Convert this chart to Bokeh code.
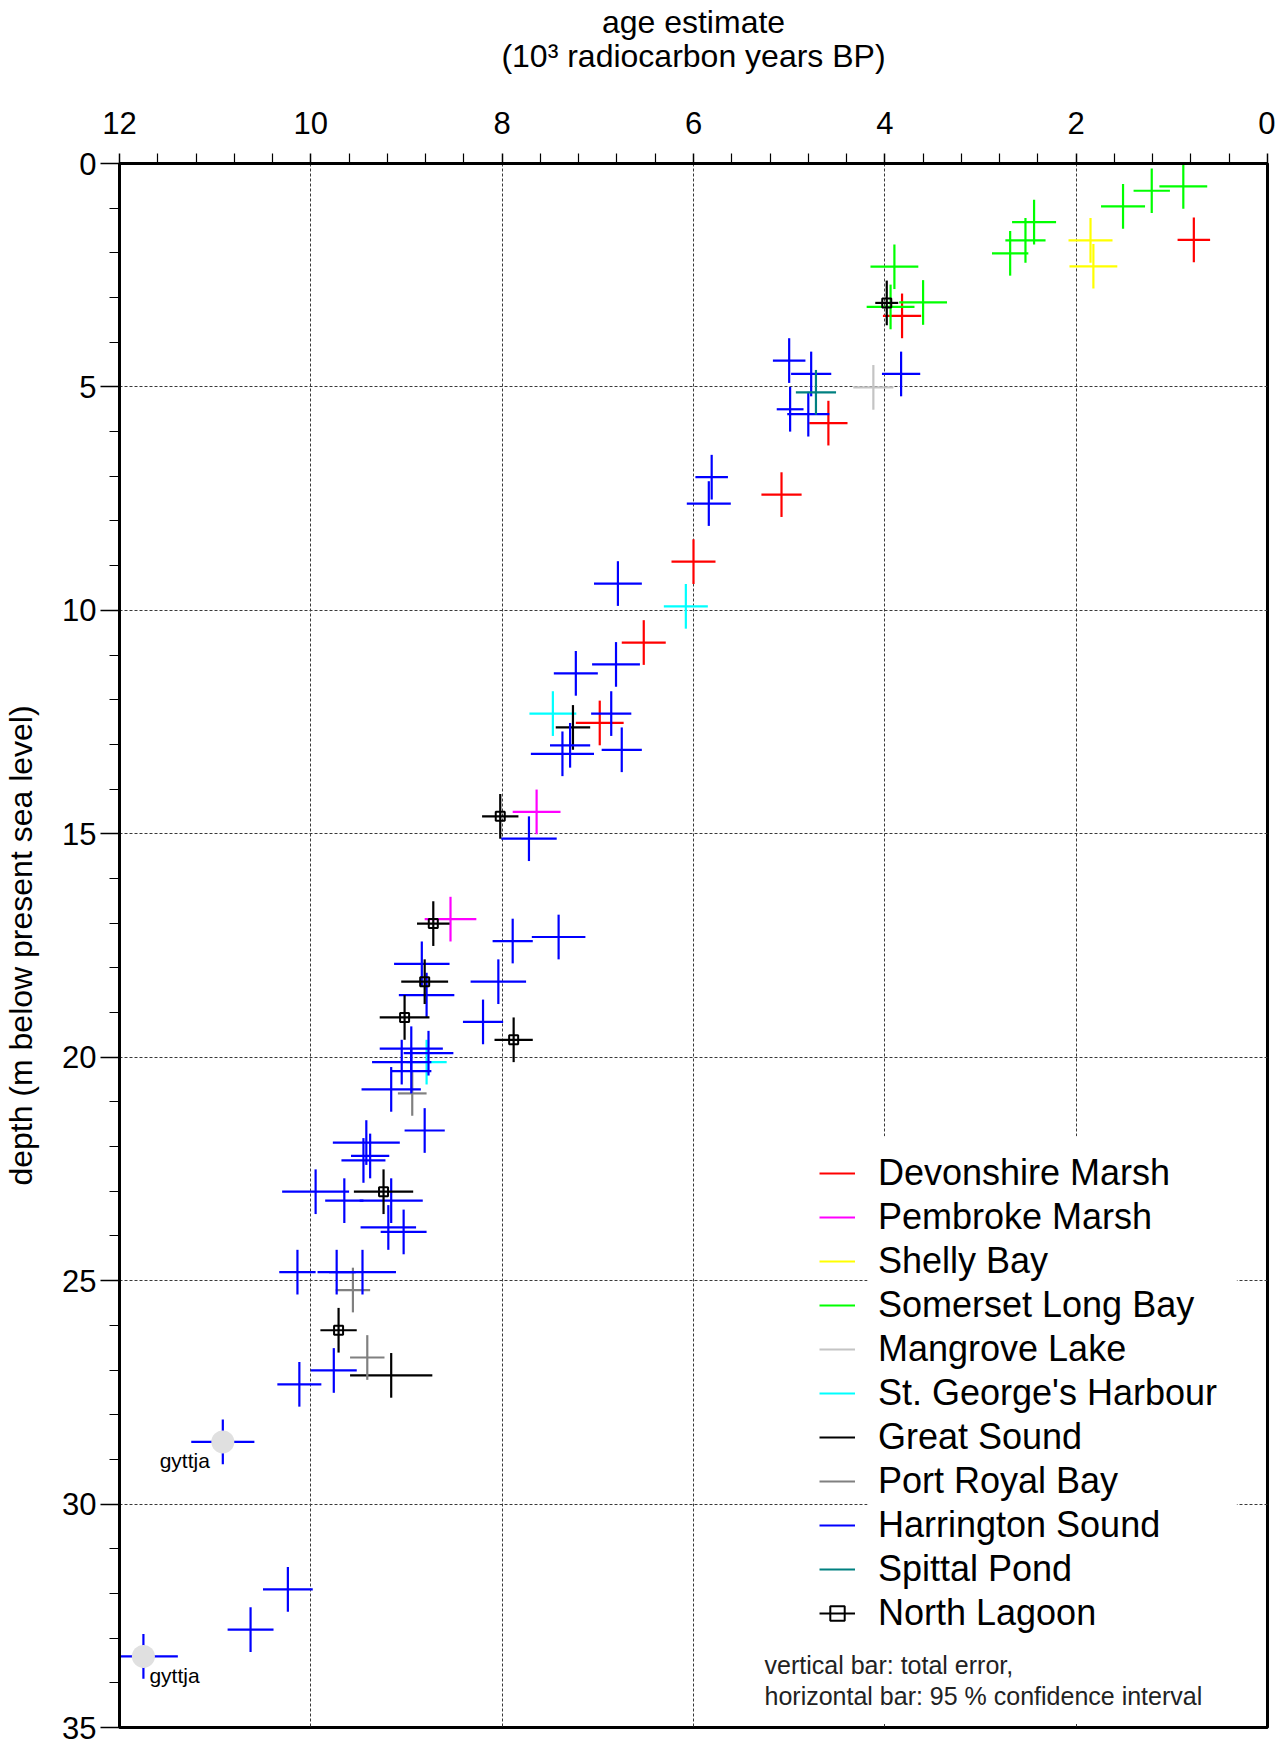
from bokeh.plotting import figure
from bokeh.models import (Range1d, FixedTicker, Legend, LegendItem, Label,
                          BoxAnnotation, ColumnDataSource)
from bokeh.core.properties import value
from bokeh.embed import file_html
from bokeh.resources import INLINE

FONT = "Liberation Sans"

# ---- radiocarbon ages (10^3 yr BP), 95 % half-width, depth (m), total depth error ----
devonshire_age = [0.77, 3.82, 4.59, 5.08, 6.00, 6.52, 6.98]
devonshire_ci = [0.17, 0.20, 0.20, 0.21, 0.23, 0.23, 0.25]
devonshire_depth = [1.71, 3.41, 5.81, 7.41, 8.91, 10.72, 12.52]
devonshire_err = [0.5, 0.5, 0.5, 0.5, 0.5, 0.5, 0.5]

pembroke_age = [7.64, 8.54]
pembroke_ci = [0.25, 0.27]
pembroke_depth = [14.51, 16.91]
pembroke_err = [0.5, 0.5]

shelly_age = [1.85, 1.82]
shelly_ci = [0.23, 0.25]
shelly_depth = [1.72, 2.30]
shelly_err = [0.5, 0.5]

somerset_age = [0.88, 1.21, 1.51, 2.44, 2.53, 2.69, 3.90, 3.94, 3.60]
somerset_ci = [0.25, 0.19, 0.23, 0.23, 0.21, 0.19, 0.25, 0.25, 0.25]
somerset_depth = [0.51, 0.61, 0.96, 1.31, 1.72, 2.01, 2.31, 3.21, 3.11]
somerset_err = [0.5, 0.5, 0.5, 0.5, 0.5, 0.5, 0.5, 0.5, 0.5]

mangrove_age = [4.12]
mangrove_ci = [0.21]
mangrove_depth = [5.01]
mangrove_err = [0.5]

stgeorge_age = [6.08, 7.47, 8.79]
stgeorge_ci = [0.23, 0.245, 0.21]
stgeorge_depth = [9.91, 12.31, 20.11]
stgeorge_err = [0.5, 0.5, 0.5]

greatsound_age = [7.26, 9.16]
greatsound_ci = [0.18, 0.43]
greatsound_depth = [12.62, 27.12]
greatsound_err = [0.5, 0.5]

portroyal_age = [8.94, 9.56, 9.41]
portroyal_ci = [0.15, 0.18, 0.18]
portroyal_depth = [20.81, 25.21, 26.72]
portroyal_err = [0.5, 0.5, 0.5]

harrington_age = [5.00, 4.77, 4.99, 4.80, 3.83, 5.81, 5.84, 6.79, 6.81, 7.23,
                  6.86, 7.29, 7.37, 6.75, 7.72, 7.89, 7.41, 8.84, 8.79, 8.04,
                  8.20, 8.95, 8.77, 9.05, 8.95, 9.16, 8.81, 9.42, 9.38, 9.45,
                  9.95, 9.65, 9.16, 9.19, 9.03, 10.14, 9.73, 9.46, 9.76, 10.12,
                  10.92, 10.24, 10.63, 11.75]
harrington_ci = [0.17, 0.21, 0.14, 0.22, 0.20, 0.17, 0.23, 0.25, 0.25, 0.23,
                 0.21, 0.21, 0.33, 0.21, 0.29, 0.21, 0.28, 0.29, 0.29, 0.29,
                 0.21, 0.33, 0.26, 0.31, 0.21, 0.31, 0.21, 0.35, 0.20, 0.23,
                 0.35, 0.20, 0.33, 0.29, 0.24, 0.19, 0.20, 0.35, 0.24, 0.23,
                 0.33, 0.26, 0.24, 0.36]
harrington_depth = [4.41, 4.71, 5.50, 5.61, 4.71, 7.02, 7.61, 9.40, 11.21, 11.41,
                    12.31, 13.02, 13.21, 13.12, 15.11, 17.40, 17.31, 17.91, 18.61, 18.31,
                    19.21, 19.81, 19.91, 20.11, 20.31, 20.72, 21.64, 21.91, 22.21, 22.31,
                    23.01, 23.21, 23.21, 23.81, 23.91, 24.81, 24.81, 24.81, 27.01, 27.32,
                    28.61, 31.91, 32.81, 33.41]
harrington_err = [0.5, 0.5, 0.5, 0.5, 0.5, 0.5, 0.5, 0.5, 0.5, 0.5,
                  0.5, 0.5, 0.5, 0.5, 0.5, 0.5, 0.5, 0.5, 0.5, 0.5,
                  0.5, 0.5, 0.5, 0.5, 0.5, 0.5, 0.5, 0.5, 0.5, 0.5,
                  0.5, 0.5, 0.5, 0.5, 0.5, 0.5, 0.5, 0.5, 0.5, 0.5,
                  0.5, 0.5, 0.5, 0.5]

spittal_age = [4.72]
spittal_ci = [0.21]
spittal_depth = [5.12]
spittal_err = [0.5]

northlagoon_age = [3.98, 8.02, 8.72, 8.81, 9.02, 7.88, 9.24, 9.71]
northlagoon_ci = [0.12, 0.19, 0.17, 0.245, 0.26, 0.20, 0.31, 0.19]
northlagoon_depth = [3.12, 14.61, 17.01, 18.31, 19.11, 19.61, 23.01, 26.11]
northlagoon_err = [0.5, 0.5, 0.5, 0.5, 0.5, 0.5, 0.5, 0.5]

# gyttja (organic mud) samples within the Harrington Sound series
gyttja_age = [10.92, 11.75]
gyttja_depth = [28.61, 33.41]
gyttja_text = ["gyttja", "gyttja"]

# axis ticks
age_ticks = [0, 2, 4, 6, 8, 10, 12]
depth_ticks = [0, 5, 10, 15, 20, 25, 30, 35]

series = [
    ("Devonshire Marsh", devonshire_age, devonshire_ci, devonshire_depth, devonshire_err, "#ff0000"),
    ("Pembroke Marsh", pembroke_age, pembroke_ci, pembroke_depth, pembroke_err, "#ff00ff"),
    ("Shelly Bay", shelly_age, shelly_ci, shelly_depth, shelly_err, "#ffff00"),
    ("Somerset Long Bay", somerset_age, somerset_ci, somerset_depth, somerset_err, "#00ff00"),
    ("Mangrove Lake", mangrove_age, mangrove_ci, mangrove_depth, mangrove_err, "#c4c4c4"),
    ("St. George's Harbour", stgeorge_age, stgeorge_ci, stgeorge_depth, stgeorge_err, "#00ffff"),
    ("Great Sound", greatsound_age, greatsound_ci, greatsound_depth, greatsound_err, "#000000"),
    ("Port Royal Bay", portroyal_age, portroyal_ci, portroyal_depth, portroyal_err, "#808080"),
    ("Harrington Sound", harrington_age, harrington_ci, harrington_depth, harrington_err, "#0000ff"),
    ("Spittal Pond", spittal_age, spittal_ci, spittal_depth, spittal_err, "#008080"),
    ("North Lagoon", northlagoon_age, northlagoon_ci, northlagoon_depth, northlagoon_err, "#000000"),
]

p = figure(width=1275, height=1745,
           x_range=Range1d(12, 0), y_range=Range1d(35, 0),
           x_axis_location="above",
           output_backend="svg", toolbar_location=None,
           min_border_left=116, min_border_right=8,
           min_border_top=163, min_border_bottom=18)
p.background_fill_color = "white"
p.border_fill_color = "white"
p.outline_line_color = "black"
p.outline_line_width = 3

# axes
minor_age = [round(0.4 * i, 1) for i in range(31) if (i % 5) != 0]
p.xaxis.ticker = FixedTicker(ticks=age_ticks, minor_ticks=minor_age)
p.yaxis.ticker = FixedTicker(ticks=depth_ticks, minor_ticks=list(range(36)))
for ax in (p.xaxis[0], p.yaxis[0]):
    ax.major_label_text_font = FONT
    ax.major_label_text_font_size = "31px"
    ax.major_label_text_color = "black"
    ax.axis_line_width = 3
    ax.axis_line_color = "black"
    ax.major_tick_line_color = "black"
    ax.minor_tick_line_color = "black"
    ax.major_tick_line_width = 1.5
    ax.minor_tick_line_width = 1.2
    ax.major_tick_in = 0
    ax.minor_tick_in = 0
    ax.axis_label_text_font = FONT
    ax.axis_label_text_font_size = "32px"
    ax.axis_label_text_font_style = "normal"
    ax.axis_label_text_color = "black"
p.xaxis.major_tick_out = 10
p.xaxis.minor_tick_out = 10
p.xaxis.major_label_standoff = 20
p.xaxis.axis_label = "age estimate\n(10\u00b3 radiocarbon years BP)"
p.xaxis.axis_label_text_line_height = 0.93
p.xaxis.axis_label_standoff = 35
p.yaxis.major_tick_out = 19
p.yaxis.minor_tick_out = 10
p.yaxis.major_label_standoff = 4
p.yaxis.axis_label = "depth (m below present sea level)"
p.yaxis.axis_label_standoff = 20

for g in (p.xgrid[0], p.ygrid[0]):
    g.grid_line_color = "#3a3a3a"
    g.grid_line_width = 1
    g.grid_line_dash = "3 2"

# error crosses for every site
legend_items = []
for name, age, ci, depth, err, color in series:
    src = ColumnDataSource(dict(
        age=age, depth=depth,
        a0=[a - c for a, c in zip(age, ci)], a1=[a + c for a, c in zip(age, ci)],
        d0=[d - e for d, e in zip(depth, err)], d1=[d + e for d, e in zip(depth, err)],
    ))
    h = p.segment(x0="a0", y0="depth", x1="a1", y1="depth", source=src,
                  line_color=color, line_width=2.2)
    p.segment(x0="age", y0="d0", x1="age", y1="d1", source=src,
              line_color=color, line_width=2.2)
    rends = [h]
    if name == "North Lagoon":
        sq = p.scatter(x="age", y="depth", source=src, marker="square", size=9,
                       fill_color=None, line_color="black", line_width=2)
        rends.append(sq)
    legend_items.append(LegendItem(label=name, renderers=rends))

# gyttja samples
gsrc = ColumnDataSource(dict(age=gyttja_age, depth=gyttja_depth, text=gyttja_text))
p.scatter(x="age", y="depth", source=gsrc, marker="circle", size=23,
          fill_color="#e0e0e0", line_color=None)
p.text(x=[gyttja_age[0]], y=[gyttja_depth[0]], text=[gyttja_text[0]],
       x_offset=-13, y_offset=19, text_align="right", text_baseline="alphabetic",
       text_font=value(FONT), text_font_size="21px", text_color="black")
p.text(x=[gyttja_age[1]], y=[gyttja_depth[1]], text=[gyttja_text[1]],
       x_offset=6, y_offset=19, text_align="left", text_baseline="alphabetic",
       text_font=value(FONT), text_font_size="21px", text_color="black")

# white panel behind the legend labels and the note
legend_panel = BoxAnnotation(left=4.18, right=0.32, top=21.77, bottom=34.92,
                             fill_color="white", fill_alpha=1.0, line_color=None)
p.add_layout(legend_panel)

legend = Legend(items=legend_items, location=(700, 92), orientation="vertical",
                label_text_font=FONT, label_text_font_size="36px",
                label_text_color="black",
                glyph_width=36, glyph_height=44, label_height=44,
                label_standoff=23, spacing=0, padding=0, margin=0,
                border_line_color=None, background_fill_alpha=0)
p.add_layout(legend)

note_kw = dict(x_units="screen", y_units="screen", text_font=FONT,
               text_font_size="25px", text_align="left", text_baseline="alphabetic",
               text_color="#222222")
p.add_layout(Label(x=645, y=63, text="vertical bar: total error,", **note_kw))
p.add_layout(Label(x=645, y=32, text="horizontal bar: 95 % confidence interval", **note_kw))

open("out.html", "w").write(file_html(p, INLINE))
